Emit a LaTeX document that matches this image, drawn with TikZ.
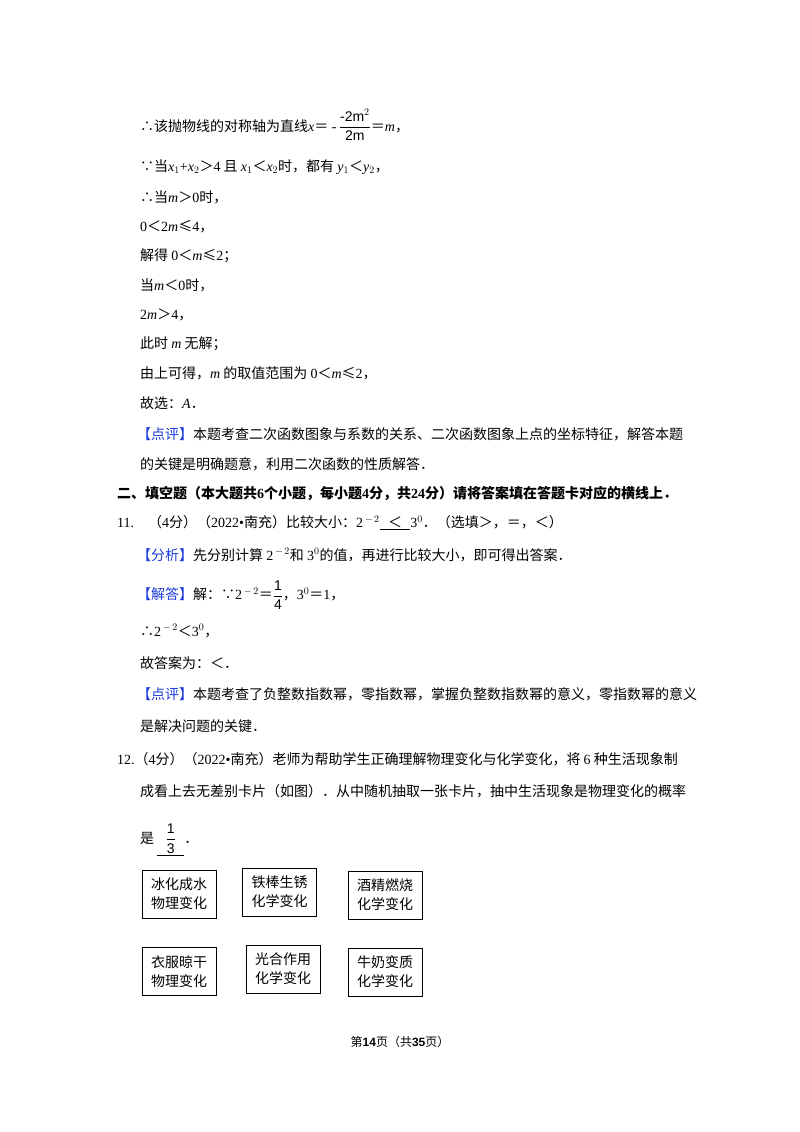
\documentclass[tikz,border=0pt]{standalone}
\usepackage{amsmath}
\usepackage{fontspec}
\setmainfont{Liberation Serif}
\newfontfamily\cjk{Noto Sans CJK SC}
\newfontfamily\sfa{Liberation Sans}
\definecolor{pblue}{RGB}{30,60,220}
\begin{document}
\begin{tikzpicture}[x=1pt,y=-1pt,
  ln/.style={anchor=west,inner sep=0pt,font=\fontsize{14}{16}\selectfont\cjk},
  card/.style={draw,line width=0.8pt,minimum width=74pt,minimum height=48pt,inner sep=0pt,font=\fontsize{14}{19}\selectfont\cjk,align=center}]
\useasboundingbox[fill=white] (0,0) rectangle (800,1132);
\newcommand\vv[1]{{\rmfamily\itshape #1}}
\newcommand\nn[1]{{\rmfamily #1}}
\node[ln] (l1) at (140,125) {∴该抛物线的对称轴为直线\vv{x}＝\nn{ -}\,$\dfrac{\text{\sfa -2m}^{2}}{\text{\sfa 2m}}$＝\vv{m}，};
\node[ln] (l2) at (140,167) {∵当\vv{x}$_1$\nn{+}\vv{x}$_2$＞\nn{4} 且 \vv{x}$_1$＜\vv{x}$_2$时，都有 \vv{y}$_1$＜\vv{y}$_2$，};
\node[ln] (l3) at (140,197) {∴当\vv{m}＞\nn{0}时，};
\node[ln] (l4) at (140,227) {\nn{0}＜\nn{2}\vv{m}≤\nn{4}，};
\node[ln] (l5) at (140,256) {解得 \nn{0}＜\vv{m}≤\nn{2}；};
\node[ln] (l6) at (140,285) {当\vv{m}＜\nn{0}时，};
\node[ln] (l7) at (140,315) {\nn{2}\vv{m}＞\nn{4}，};
\node[ln] (l8) at (140,344) {此时 \vv{m} 无解；};
\node[ln] (l9) at (140,373) {由上可得，\vv{m} 的取值范围为 \nn{0}＜\vv{m}≤\nn{2}，};
\node[ln] (l10) at (140,403) {故选：\vv{A}．};
\node[ln] (l11) at (137,434) {\textcolor{pblue}{【点评】}本题考查二次函数图象与系数的关系、二次函数图象上点的坐标特征，解答本题};
\node[ln] (l12) at (140,464) {的关键是明确题意，利用二次函数的性质解答．};
\node[ln,font=\fontsize{14}{16}\selectfont\cjk\bfseries] (l13) at (117,493) {二、填空题（本大题共\nn{6}个小题，每小题\nn{4}分，共\nn{24}分）请将答案填在答题卡对应的横线上．};
\node[ln] (l14) at (117,523) {\nn{11.}\quad（\nn{4}分）（\nn{2022•}南充）比较大小：\nn{2}$^{\,-\,2}$\underline{\hspace{0.6em}＜\hspace{0.6em}}\nn{3}$^0$．（选填＞，＝，＜）};
\node[ln] (l15) at (137,555) {\textcolor{pblue}{【分析】}先分别计算 \nn{2}$^{\,-\,2}$和 \nn{3}$^0$的值，再进行比较大小，即可得出答案．};
\node[ln] (l16) at (137,595) {\textcolor{pblue}{【解答】}解：∵\nn{2}$^{\,-\,2}$＝$\dfrac{\text{\sfa 1}}{\text{\sfa 4}}$，\nn{3}$^0$＝\nn{1}，};
\node[ln] (l17) at (140,631) {∴\nn{2}$^{\,-\,2}$＜\nn{3}$^0$，};
\node[ln] (l18) at (140,663) {故答案为：＜．};
\node[ln] (l19) at (137,694) {\textcolor{pblue}{【点评】}本题考查了负整数指数幂，零指数幂，掌握负整数指数幂的意义，零指数幂的意义};
\node[ln] (l20) at (140,726) {是解决问题的关键．};
\node[ln] (l21) at (117,759) {\nn{12.}（\nn{4}分）（\nn{2022•}南充）老师为帮助学生正确理解物理变化与化学变化，将 \nn{6} 种生活现象制};
\node[ln] (l22) at (140,791) {成看上去无差别卡片（如图）．从中随机抽取一张卡片，抽中生活现象是物理变化的概率};
\node[ln] (l23) at (140,840) {是\ \underline{\hspace{0.6em}$\dfrac{\text{\sfa 1}}{\text{\sfa 3}}$\hspace{0.6em}}．};
\node[card] (c1) at (179,894) {冰化成水\\物理变化};
\node[card] (c2) at (279.5,892) {铁棒生锈\\化学变化};
\node[card] (c3) at (385,895) {酒精燃烧\\化学变化};
\node[card] (c4) at (179,971.5) {衣服晾干\\物理变化};
\node[card] (c5) at (283,969) {光合作用\\化学变化};
\node[card] (c6) at (385,972) {牛奶变质\\化学变化};
\node[inner sep=0pt,font=\fontsize{12}{14}\selectfont\cjk] (ft) at (400,1042) {第\textbf{\sfa 14}页（共\textbf{\sfa 35}页）};
\end{tikzpicture}
\end{document}
